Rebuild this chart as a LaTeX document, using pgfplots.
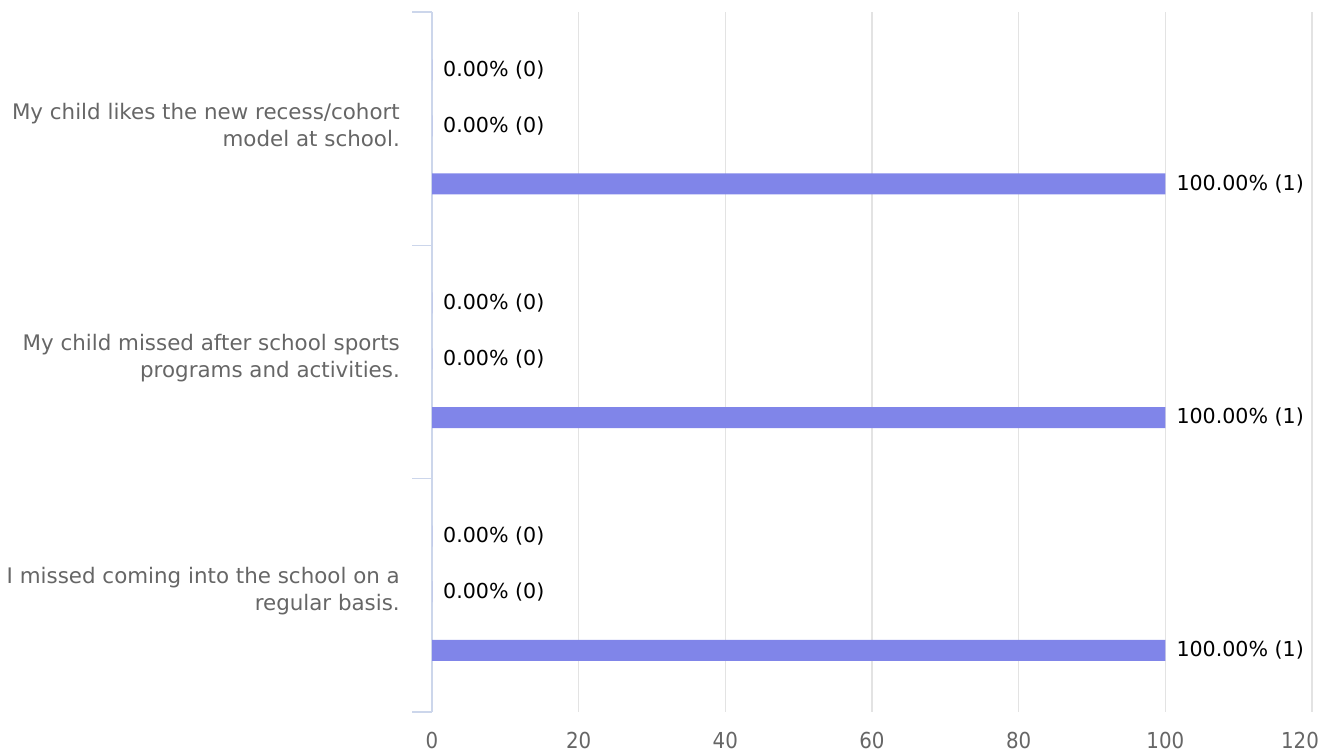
\documentclass[border=0pt]{standalone}
\usepackage{fontspec}
\setmainfont{DejaVu Sans}
\newfontfamily\condfont{DejaVu Sans Condensed}
\usepackage{pgfplots}
\pgfplotsset{compat=1.18}
\definecolor{barc}{HTML}{8085E9}
\definecolor{axc}{HTML}{CCD6EB}
\definecolor{gridc}{HTML}{E3E3E3}
\definecolor{labc}{HTML}{666666}
\begin{document}
\begin{tikzpicture}
\path[use as bounding box] (0,0) rectangle (1323bp,755bp);
\begin{axis}[
  at={(432bp,43bp)}, anchor=south west,
  scale only axis, width=880bp, height=700bp,
  xmin=0, xmax=120, ymin=0, ymax=3, y dir=reverse,
  clip=false,
  /pgf/number format/assume math mode=true,
  xtick={0,20,40,60,80,100},
  extra x ticks={120},
  extra x tick style={grid=major, xticklabel style={xshift=-12bp}},
  ytick={0.5,1.5,2.5},
  yticklabels={{My child likes the new recess/cohort\\model at school.},
               {My child missed after school sports\\programs and activities.},
               {I missed coming into the school on a\\regular basis.}},
  minor ytick={0,1,2,3},
  axis y line*=left, axis x line*=bottom,
  x axis line style={draw=none},
  y axis line style={draw=axc, line width=1.4bp},
  xmajorgrids, grid style={draw=gridc, line width=1.2bp},
  major tick length=0pt, minor tick length=20bp,
  tick align=outside,
  every minor tick/.style={draw=axc, line width=1.4bp},
  xticklabel style={font=\condfont\fontsize{22bp}{26bp}\selectfont, text=labc, anchor=center, inner sep=0pt, yshift=-28bp},
  yticklabel style={font=\fontsize{21.4bp}{27bp}\selectfont, text=labc, align=right, anchor=east, inner sep=0pt, xshift=-32bp, yshift=4bp},
  xbar, bar width=21bp, bar shift=0pt,
  point meta=x,
  every node near coord/.append style={anchor=west, inner sep=0pt, xshift=11bp, font=\fontsize{20.6bp}{24bp}\selectfont, text=black},
]
% first bar of each group (0 responses)
\addplot[fill=barc, draw=none, nodes near coords={\pgfmathprintnumber[fixed,fixed zerofill,precision=2]{\pgfplotspointmeta}\% (0)}]
  coordinates {(0,0.248) (0,1.247) (0,2.246)};
% second bar of each group (0 responses)
\addplot[fill=barc, draw=none, nodes near coords={\pgfmathprintnumber[fixed,fixed zerofill,precision=2]{\pgfplotspointmeta}\% (0)}]
  coordinates {(0,0.488) (0,1.487) (0,2.484)};
% third bar of each group (1 response)
\addplot[fill=barc, draw=none, nodes near coords={\pgfmathprintnumber[fixed,fixed zerofill,precision=2]{\pgfplotspointmeta}\% (1)}]
  coordinates {(100,0.737) (100,1.738) (100,2.736)};
\end{axis}
\end{tikzpicture}
\end{document}
